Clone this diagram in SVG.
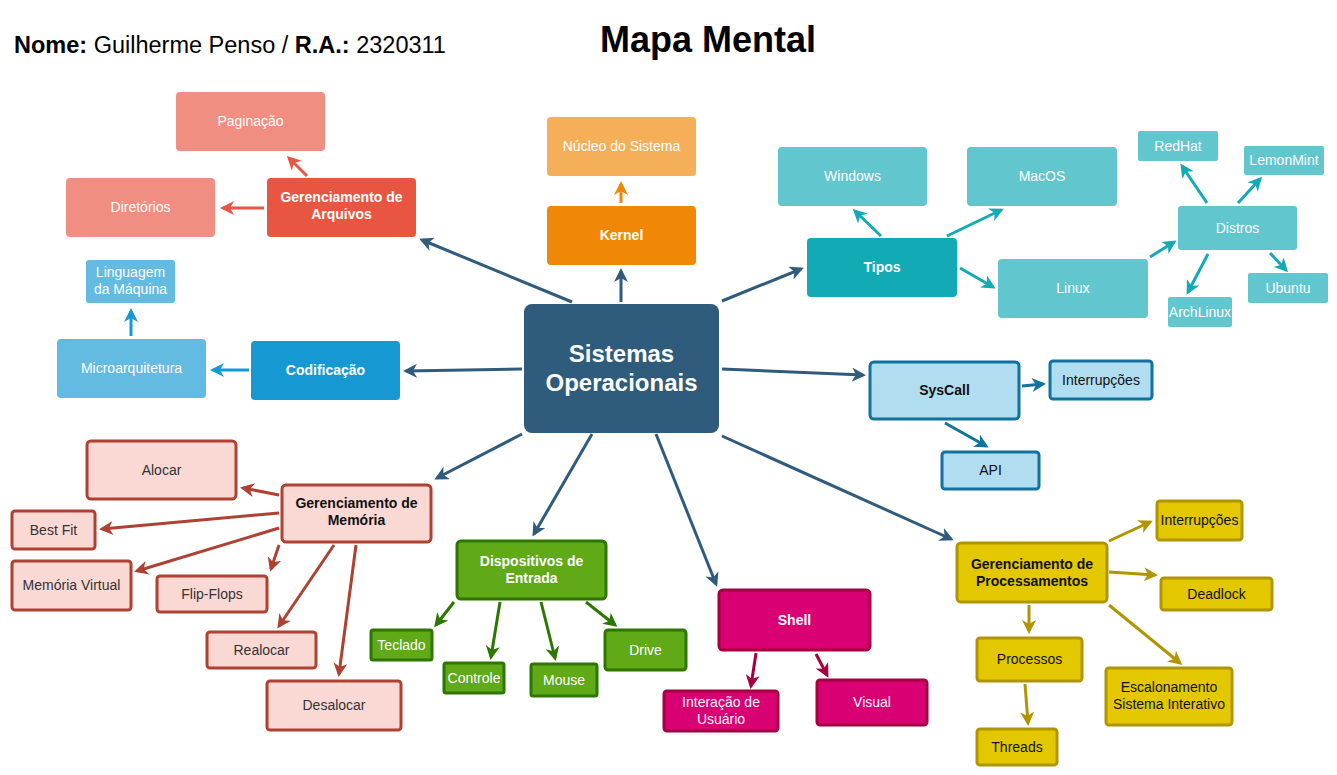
<svg xmlns="http://www.w3.org/2000/svg" width="1337" height="775" viewBox="0 0 1337 775">
<defs>
<style>
text{font-family:"Liberation Sans",Arial,sans-serif;font-size:14px;text-anchor:middle}
.w{fill:#fff}
.b{font-weight:bold}
.d{fill:#333}
.k{fill:#111}
line{stroke-width:3;fill:none}
.c0{stroke:#2f5b7c;marker-end:url(#m0)}
.c1{stroke:#f08705;marker-end:url(#m1)}
.c2{stroke:#e85642;marker-end:url(#m2)}
.c3{stroke:#1699d3;marker-end:url(#m3)}
.c4{stroke:#12aab5;marker-end:url(#m4)}
.c5{stroke:#10739e;marker-end:url(#m5)}
.c6{stroke:#ae4132;marker-end:url(#m6)}
.c7{stroke:#2d7600;marker-end:url(#m7)}
.c8{stroke:#a50040;marker-end:url(#m8)}
.c9{stroke:#b09500;marker-end:url(#m9)}
.syc{fill:#b1ddf0;stroke:#10739e;stroke-width:3}
.mem{fill:#fad9d5;stroke:#ae4132;stroke-width:3}
.grn{fill:#60a917;stroke:#2d7600;stroke-width:3}
.shl{fill:#d80073;stroke:#a50040;stroke-width:3}
.gld{fill:#e3c800;stroke:#b09500;stroke-width:3}
</style>
<marker id="m0" viewBox="0 0 14 14" markerWidth="14" markerHeight="14" refX="11" refY="7" orient="auto" markerUnits="userSpaceOnUse"><path d="M0,0 L14,7 L0,14 L4,7 Z" fill="#2f5b7c"/></marker>
<marker id="m1" viewBox="0 0 14 14" markerWidth="14" markerHeight="14" refX="11" refY="7" orient="auto" markerUnits="userSpaceOnUse"><path d="M0,0 L14,7 L0,14 L4,7 Z" fill="#f08705"/></marker>
<marker id="m2" viewBox="0 0 14 14" markerWidth="14" markerHeight="14" refX="11" refY="7" orient="auto" markerUnits="userSpaceOnUse"><path d="M0,0 L14,7 L0,14 L4,7 Z" fill="#e85642"/></marker>
<marker id="m3" viewBox="0 0 14 14" markerWidth="14" markerHeight="14" refX="11" refY="7" orient="auto" markerUnits="userSpaceOnUse"><path d="M0,0 L14,7 L0,14 L4,7 Z" fill="#1699d3"/></marker>
<marker id="m4" viewBox="0 0 14 14" markerWidth="14" markerHeight="14" refX="11" refY="7" orient="auto" markerUnits="userSpaceOnUse"><path d="M0,0 L14,7 L0,14 L4,7 Z" fill="#12aab5"/></marker>
<marker id="m5" viewBox="0 0 14 14" markerWidth="14" markerHeight="14" refX="11" refY="7" orient="auto" markerUnits="userSpaceOnUse"><path d="M0,0 L14,7 L0,14 L4,7 Z" fill="#10739e"/></marker>
<marker id="m6" viewBox="0 0 14 14" markerWidth="14" markerHeight="14" refX="11" refY="7" orient="auto" markerUnits="userSpaceOnUse"><path d="M0,0 L14,7 L0,14 L4,7 Z" fill="#ae4132"/></marker>
<marker id="m7" viewBox="0 0 14 14" markerWidth="14" markerHeight="14" refX="11" refY="7" orient="auto" markerUnits="userSpaceOnUse"><path d="M0,0 L14,7 L0,14 L4,7 Z" fill="#2d7600"/></marker>
<marker id="m8" viewBox="0 0 14 14" markerWidth="14" markerHeight="14" refX="11" refY="7" orient="auto" markerUnits="userSpaceOnUse"><path d="M0,0 L14,7 L0,14 L4,7 Z" fill="#a50040"/></marker>
<marker id="m9" viewBox="0 0 14 14" markerWidth="14" markerHeight="14" refX="11" refY="7" orient="auto" markerUnits="userSpaceOnUse"><path d="M0,0 L14,7 L0,14 L4,7 Z" fill="#b09500"/></marker>
</defs>
<rect width="1337" height="775" fill="#fff"/>

<g id="header">
<text x="14" y="53" style="text-anchor:start;font-size:23.5px" fill="#000"><tspan font-weight="bold">Nome:</tspan> Guilherme Penso / <tspan font-weight="bold">R.A.:</tspan> 2320311</text>
<text x="708" y="52" style="font-size:36px;font-weight:bold" fill="#000">Mapa Mental</text>
</g>

<g id="connectors">
<line class="c0" x1="572" y1="302" x2="422" y2="240"/>
<line class="c0" x1="621" y1="302" x2="621" y2="271"/>
<line class="c0" x1="722" y1="301" x2="801" y2="269"/>
<line class="c0" x1="522" y1="369" x2="406" y2="371"/>
<line class="c0" x1="722" y1="369" x2="863" y2="375"/>
<line class="c0" x1="522" y1="434" x2="437" y2="478"/>
<line class="c0" x1="592" y1="434" x2="534" y2="534"/>
<line class="c0" x1="656" y1="434" x2="716" y2="584"/>
<line class="c0" x1="722" y1="436" x2="951" y2="539"/>
<line class="c1" x1="621" y1="203" x2="621" y2="184"/>
<line class="c2" x1="307" y1="176" x2="289" y2="158"/>
<line class="c2" x1="264" y1="208" x2="223" y2="208"/>
<line class="c3" x1="249" y1="370" x2="213" y2="370"/>
<line class="c3" x1="131" y1="336" x2="131" y2="311"/>
<line class="c4" x1="881" y1="236" x2="855" y2="211"/>
<line class="c4" x1="947" y1="236" x2="1001" y2="210"/>
<line class="c4" x1="960" y1="268" x2="993" y2="287"/>
<line class="c4" x1="1150" y1="257" x2="1174" y2="242"/>
<line class="c4" x1="1207" y1="203" x2="1182" y2="166"/>
<line class="c4" x1="1238" y1="203" x2="1260" y2="179"/>
<line class="c4" x1="1208" y1="254" x2="1188" y2="292"/>
<line class="c4" x1="1270" y1="253" x2="1286" y2="270"/>
<line class="c5" x1="1022" y1="386" x2="1043" y2="384"/>
<line class="c5" x1="945" y1="423" x2="986" y2="446"/>
<line class="c6" x1="279" y1="495" x2="243" y2="488"/>
<line class="c6" x1="279" y1="513" x2="102" y2="529"/>
<line class="c6" x1="279" y1="528" x2="137" y2="571"/>
<line class="c6" x1="279" y1="545" x2="271" y2="569"/>
<line class="c6" x1="334" y1="545" x2="279" y2="626"/>
<line class="c6" x1="356" y1="545" x2="339" y2="674"/>
<line class="c7" x1="454" y1="602" x2="436" y2="625"/>
<line class="c7" x1="500" y1="602" x2="491" y2="657"/>
<line class="c7" x1="541" y1="602" x2="555" y2="658"/>
<line class="c7" x1="586" y1="602" x2="615" y2="625"/>
<line class="c8" x1="756" y1="653" x2="751" y2="686"/>
<line class="c8" x1="816" y1="654" x2="827" y2="675"/>
<line class="c9" x1="1109" y1="541" x2="1150" y2="522"/>
<line class="c9" x1="1109" y1="572" x2="1155" y2="575"/>
<line class="c9" x1="1109" y1="605" x2="1180" y2="663"/>
<line class="c9" x1="1029" y1="605" x2="1029" y2="631"/>
<line class="c9" x1="1025" y1="684" x2="1028" y2="723"/>
</g>

<g id="central"><rect x="524" y="304" width="195" height="129" rx="8" fill="#2f5b7c"/>
<text class="w b" x="621.5" y="362" style="font-size:24px">Sistemas</text><text class="w b" x="621.5" y="391" style="font-size:24px">Operacionais</text></g>

<g id="gerArquivos"><rect x="267" y="178" width="149" height="59" rx="4" fill="#e85642"/><text class="w b" x="341.5" y="202">Gerenciamento de</text><text class="w b" x="341.5" y="219">Arquivos</text></g>
<g id="paginacao"><rect x="176" y="92" width="149" height="59" rx="4" fill="#f08e81"/><text class="w" x="250.5" y="126">Paginação</text></g>
<g id="diretorios"><rect x="66" y="178" width="149" height="59" rx="4" fill="#f08e81"/><text class="w" x="140.5" y="212">Diretórios</text></g>

<g id="kernel"><rect x="547" y="206" width="149" height="59" rx="4" fill="#f08705"/><text class="w b" x="621.5" y="240">Kernel</text></g>
<g id="nucleo"><rect x="547" y="117" width="149" height="59" rx="4" fill="#f5af58"/><text class="w" x="621.5" y="151">Núcleo do Sistema</text></g>

<g id="tipos"><rect x="807" y="238" width="150" height="59" rx="4" fill="#12aab5"/><text class="w b" x="882" y="272">Tipos</text></g>
<g id="windows"><rect x="778" y="147" width="149" height="59" rx="4" fill="#61c6ce"/><text class="w" x="852.5" y="181">Windows</text></g>
<g id="macos"><rect x="967" y="147" width="150" height="59" rx="4" fill="#61c6ce"/><text class="w" x="1042" y="181">MacOS</text></g>
<g id="linux"><rect x="998" y="259" width="150" height="59" rx="4" fill="#61c6ce"/><text class="w" x="1073" y="293">Linux</text></g>
<g id="distros"><rect x="1178" y="206" width="119" height="44" rx="3" fill="#61c6ce"/><text class="w" x="1237.5" y="233">Distros</text></g>
<g id="redhat"><rect x="1138" y="131" width="80" height="30" rx="2" fill="#61c6ce"/><text class="w" x="1178" y="151">RedHat</text></g>
<g id="lemonmint"><rect x="1244" y="146" width="80" height="29" rx="2" fill="#61c6ce"/><text class="w" x="1284" y="165">LemonMint</text></g>
<g id="ubuntu"><rect x="1248" y="273" width="80" height="30" rx="2" fill="#61c6ce"/><text class="w" x="1288" y="293">Ubuntu</text></g>
<g id="archlinux"><rect x="1168" y="297" width="64" height="30" rx="2" fill="#61c6ce"/><text class="w" x="1200" y="317">ArchLinux</text></g>

<g id="codificacao"><rect x="251" y="341" width="149" height="59" rx="4" fill="#1699d3"/><text class="w b" x="325.5" y="375">Codificação</text></g>
<g id="microarq"><rect x="57" y="339" width="149" height="59" rx="4" fill="#64bbe2"/><text class="w" x="131.5" y="373">Microarquitetura</text></g>
<g id="linguagem"><rect x="86" y="260" width="89" height="43" rx="3" fill="#64bbe2"/><text class="w" x="130.5" y="277">Linguagem</text><text class="w" x="130.5" y="294">da Máquina</text></g>

<g id="syscall"><rect class="syc" x="870" y="362" width="149" height="57" rx="4"/><text class="k b" x="944.5" y="395">SysCall</text></g>
<g id="interrupcoesS"><rect class="syc" x="1050" y="361" width="102" height="38" rx="3"/><text class="k" x="1101" y="385">Interrupções</text></g>
<g id="api"><rect class="syc" x="942" y="452" width="97" height="37" rx="3"/><text class="k" x="990.5" y="475">API</text></g>

<g id="gerMemoria"><rect class="mem" x="282" y="485" width="149" height="57" rx="4"/><text class="k b" x="356.5" y="508">Gerenciamento de</text><text class="k b" x="356.5" y="525">Memória</text></g>
<g id="alocar"><rect class="mem" x="87" y="441" width="149" height="58" rx="4"/><text class="d" x="161.5" y="475">Alocar</text></g>
<g id="bestfit"><rect class="mem" x="12" y="511" width="83" height="38" rx="3"/><text class="d" x="53.5" y="535">Best Fit</text></g>
<g id="memvirtual"><rect class="mem" x="12" y="561" width="119" height="49" rx="3"/><text class="d" x="71.5" y="590">Memória Virtual</text></g>
<g id="flipflops"><rect class="mem" x="157" y="576" width="110" height="36" rx="3"/><text class="d" x="212" y="599">Flip-Flops</text></g>
<g id="realocar"><rect class="mem" x="207" y="632" width="109" height="36" rx="3"/><text class="d" x="261.5" y="655">Realocar</text></g>
<g id="desalocar"><rect class="mem" x="267" y="681" width="134" height="49" rx="3"/><text class="d" x="334" y="710">Desalocar</text></g>

<g id="dispositivos"><rect class="grn" x="457" y="541" width="149" height="58" rx="4"/><text class="w b" x="531.5" y="566">Dispositivos de</text><text class="w b" x="531.5" y="583">Entrada</text></g>
<g id="teclado"><rect class="grn" x="371" y="630" width="61" height="30" rx="2"/><text class="w" x="401.5" y="650">Teclado</text></g>
<g id="controle"><rect class="grn" x="444" y="663" width="60" height="30" rx="2"/><text class="w" x="474" y="683">Controle</text></g>
<g id="mouse"><rect class="grn" x="531" y="664" width="66" height="32" rx="2"/><text class="w" x="564" y="685">Mouse</text></g>
<g id="drive"><rect class="grn" x="605" y="630" width="81" height="40" rx="3"/><text class="w" x="645.5" y="655">Drive</text></g>

<g id="shell"><rect class="shl" x="719" y="590" width="151" height="60" rx="4"/><text class="w b" x="794.5" y="625">Shell</text></g>
<g id="interacao"><rect class="shl" x="664" y="691" width="114" height="40" rx="3"/><text class="w" x="721" y="707">Interação de</text><text class="w" x="721" y="724">Usuário</text></g>
<g id="visual"><rect class="shl" x="817" y="680" width="110" height="45" rx="3"/><text class="w" x="872" y="707">Visual</text></g>

<g id="gerProcessamentos"><rect class="gld" x="957" y="543" width="150" height="59" rx="4"/><text class="k b" x="1032" y="569">Gerenciamento de</text><text class="k b" x="1032" y="586">Processamentos</text></g>
<g id="interrupcoesP"><rect class="gld" x="1157" y="501" width="85" height="39" rx="3"/><text class="k" x="1199.5" y="525">Interrupções</text></g>
<g id="deadlock"><rect class="gld" x="1161" y="578" width="111" height="32" rx="3"/><text class="k" x="1216.5" y="599">Deadlock</text></g>
<g id="processos"><rect class="gld" x="977" y="638" width="105" height="43" rx="3"/><text class="k" x="1029.5" y="664">Processos</text></g>
<g id="escalonamento"><rect class="gld" x="1106" y="668" width="126" height="57" rx="3"/><text class="k" x="1169" y="692">Escalonamento</text><text class="k" x="1169" y="709">Sistema Interativo</text></g>
<g id="threads"><rect class="gld" x="977" y="729" width="80" height="36" rx="3"/><text class="k" x="1017" y="752">Threads</text></g>
</svg>
